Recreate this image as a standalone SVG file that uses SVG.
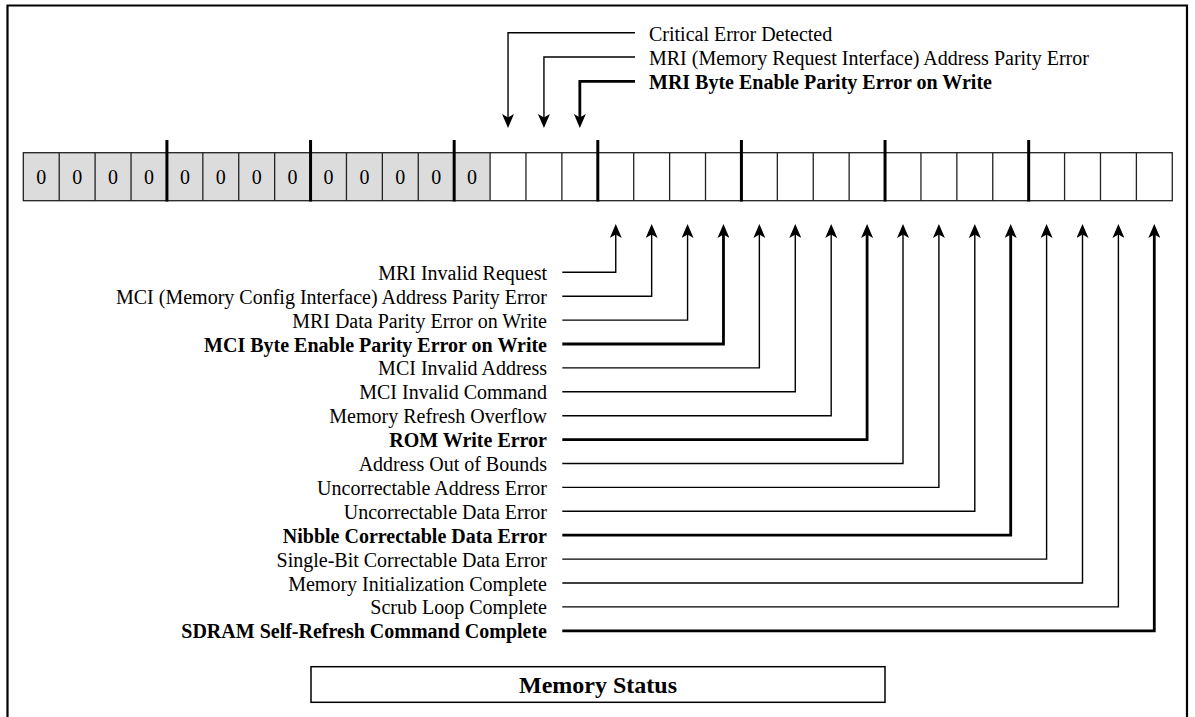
<svg xmlns="http://www.w3.org/2000/svg" width="1195" height="717" viewBox="0 0 1195 717">
<style>
text{font-family:"Liberation Serif","Times New Roman",serif;fill:#000}
.lbl{font-size:20px}
.r{text-anchor:end}
.b{font-weight:bold}
.z{font-size:20px;text-anchor:middle}
.thin{fill:none;stroke:#000;stroke-width:1.4}
.thick{fill:none;stroke:#000;stroke-width:2.8}
.cell{fill:none;stroke:#222;stroke-width:1.3}
.sep{stroke:#000;stroke-width:3}
</style>
<defs>
<marker id="ah" viewBox="0 0 14 12" markerUnits="userSpaceOnUse" markerWidth="14" markerHeight="12" refX="5" refY="6" orient="auto">
<path d="M0,0 L14,6 L0,12 L3.5,6 Z" fill="#000"/>
</marker>
</defs>
<rect width="1195" height="717" fill="#fff"/>
<path d="M7.5,720 V5.5 H1187 V720" fill="none" stroke="#000" stroke-width="2.2"/>

<g id="register">
<rect x="23.3" y="152.7" width="466.78" height="48" fill="#DCDCDC"/>
<rect class="cell" x="23.3" y="152.7" width="1148.99" height="48"/>
<g class="cell">
<line x1="59.21" y1="152.7" x2="59.21" y2="200.7"/>
<line x1="95.11" y1="152.7" x2="95.11" y2="200.7"/>
<line x1="131.02" y1="152.7" x2="131.02" y2="200.7"/>
<line x1="202.83" y1="152.7" x2="202.83" y2="200.7"/>
<line x1="238.74" y1="152.7" x2="238.74" y2="200.7"/>
<line x1="274.64" y1="152.7" x2="274.64" y2="200.7"/>
<line x1="346.45" y1="152.7" x2="346.45" y2="200.7"/>
<line x1="382.36" y1="152.7" x2="382.36" y2="200.7"/>
<line x1="418.27" y1="152.7" x2="418.27" y2="200.7"/>
<line x1="490.08" y1="152.7" x2="490.08" y2="200.7"/>
<line x1="525.98" y1="152.7" x2="525.98" y2="200.7"/>
<line x1="561.89" y1="152.7" x2="561.89" y2="200.7"/>
<line x1="633.70" y1="152.7" x2="633.70" y2="200.7"/>
<line x1="669.61" y1="152.7" x2="669.61" y2="200.7"/>
<line x1="705.51" y1="152.7" x2="705.51" y2="200.7"/>
<line x1="777.33" y1="152.7" x2="777.33" y2="200.7"/>
<line x1="813.23" y1="152.7" x2="813.23" y2="200.7"/>
<line x1="849.14" y1="152.7" x2="849.14" y2="200.7"/>
<line x1="920.95" y1="152.7" x2="920.95" y2="200.7"/>
<line x1="956.86" y1="152.7" x2="956.86" y2="200.7"/>
<line x1="992.76" y1="152.7" x2="992.76" y2="200.7"/>
<line x1="1064.57" y1="152.7" x2="1064.57" y2="200.7"/>
<line x1="1100.48" y1="152.7" x2="1100.48" y2="200.7"/>
<line x1="1136.39" y1="152.7" x2="1136.39" y2="200.7"/>
</g>
<g class="sep">
<line x1="166.92" y1="140" x2="166.92" y2="201.5"/>
<line x1="310.55" y1="140" x2="310.55" y2="201.5"/>
<line x1="454.17" y1="140" x2="454.17" y2="201.5"/>
<line x1="597.80" y1="140" x2="597.80" y2="201.5"/>
<line x1="741.42" y1="140" x2="741.42" y2="201.5"/>
<line x1="885.04" y1="140" x2="885.04" y2="201.5"/>
<line x1="1028.67" y1="140" x2="1028.67" y2="201.5"/>
</g>
<g class="z">
<text x="41.25" y="184">0</text>
<text x="77.16" y="184">0</text>
<text x="113.07" y="184">0</text>
<text x="148.97" y="184">0</text>
<text x="184.88" y="184">0</text>
<text x="220.78" y="184">0</text>
<text x="256.69" y="184">0</text>
<text x="292.60" y="184">0</text>
<text x="328.50" y="184">0</text>
<text x="364.41" y="184">0</text>
<text x="400.31" y="184">0</text>
<text x="436.22" y="184">0</text>
<text x="472.12" y="184">0</text>
</g>
</g>

<g id="connectors">
<path class="thin" d="M635,32.7 H508.03 V119" marker-end="url(#ah)"/>
<path class="thin" d="M635,57 H543.94 V119" marker-end="url(#ah)"/>
<path class="thick" d="M635,81.3 H579.84 V119" marker-end="url(#ah)"/>
<path class="thin" d="M562.3,272.3 H615.75 V233" marker-end="url(#ah)"/>
<path class="thin" d="M562.3,296.2 H651.66 V233" marker-end="url(#ah)"/>
<path class="thin" d="M562.3,320.1 H687.56 V233" marker-end="url(#ah)"/>
<path class="thick" d="M562.3,344.0 H723.47 V233" marker-end="url(#ah)"/>
<path class="thin" d="M562.3,367.9 H759.37 V233" marker-end="url(#ah)"/>
<path class="thin" d="M562.3,391.8 H795.28 V233" marker-end="url(#ah)"/>
<path class="thin" d="M562.3,415.7 H831.19 V233" marker-end="url(#ah)"/>
<path class="thick" d="M562.3,439.6 H867.09 V233" marker-end="url(#ah)"/>
<path class="thin" d="M562.3,463.5 H903.0 V233" marker-end="url(#ah)"/>
<path class="thin" d="M562.3,487.4 H938.9 V233" marker-end="url(#ah)"/>
<path class="thin" d="M562.3,511.3 H974.8 V233" marker-end="url(#ah)"/>
<path class="thick" d="M562.3,535.2 H1010.7 V233" marker-end="url(#ah)"/>
<path class="thin" d="M562.3,559.1 H1046.6 V233" marker-end="url(#ah)"/>
<path class="thin" d="M562.3,583.0 H1082.5 V233" marker-end="url(#ah)"/>
<path class="thin" d="M562.3,606.9 H1118.4 V233" marker-end="url(#ah)"/>
<path class="thick" d="M562.3,630.8 H1154.3 V233" marker-end="url(#ah)"/>
</g>

<g id="top-labels" class="lbl">
<text x="649" y="40.7">Critical Error Detected</text>
<text x="649" y="65">MRI (Memory Request Interface) Address Parity Error</text>
<text x="649" y="89.3" class="b">MRI Byte Enable Parity Error on Write</text>
</g>

<g id="bit-labels" class="lbl r">
<text x="547" y="279.8">MRI Invalid Request</text>
<text x="547" y="303.7">MCI (Memory Config Interface) Address Parity Error</text>
<text x="547" y="327.6">MRI Data Parity Error on Write</text>
<text x="547" y="351.5" class="b">MCI Byte Enable Parity Error on Write</text>
<text x="547" y="375.4">MCI Invalid Address</text>
<text x="547" y="399.3">MCI Invalid Command</text>
<text x="547" y="423.2">Memory Refresh Overflow</text>
<text x="547" y="447.1" class="b">ROM Write Error</text>
<text x="547" y="471.0">Address Out of Bounds</text>
<text x="547" y="494.9">Uncorrectable Address Error</text>
<text x="547" y="518.8">Uncorrectable Data Error</text>
<text x="547" y="542.7" class="b">Nibble Correctable Data Error</text>
<text x="547" y="566.6">Single-Bit Correctable Data Error</text>
<text x="547" y="590.5">Memory Initialization Complete</text>
<text x="547" y="614.4">Scrub Loop Complete</text>
<text x="547" y="638.3" class="b">SDRAM Self-Refresh Command Complete</text>
</g>

<g id="title">
<rect x="311" y="666.7" width="574" height="35.6" fill="#fff" stroke="#000" stroke-width="1.5"/>
<text x="598" y="693.3" text-anchor="middle" font-size="24" font-weight="bold">Memory Status</text>
</g>
</svg>
